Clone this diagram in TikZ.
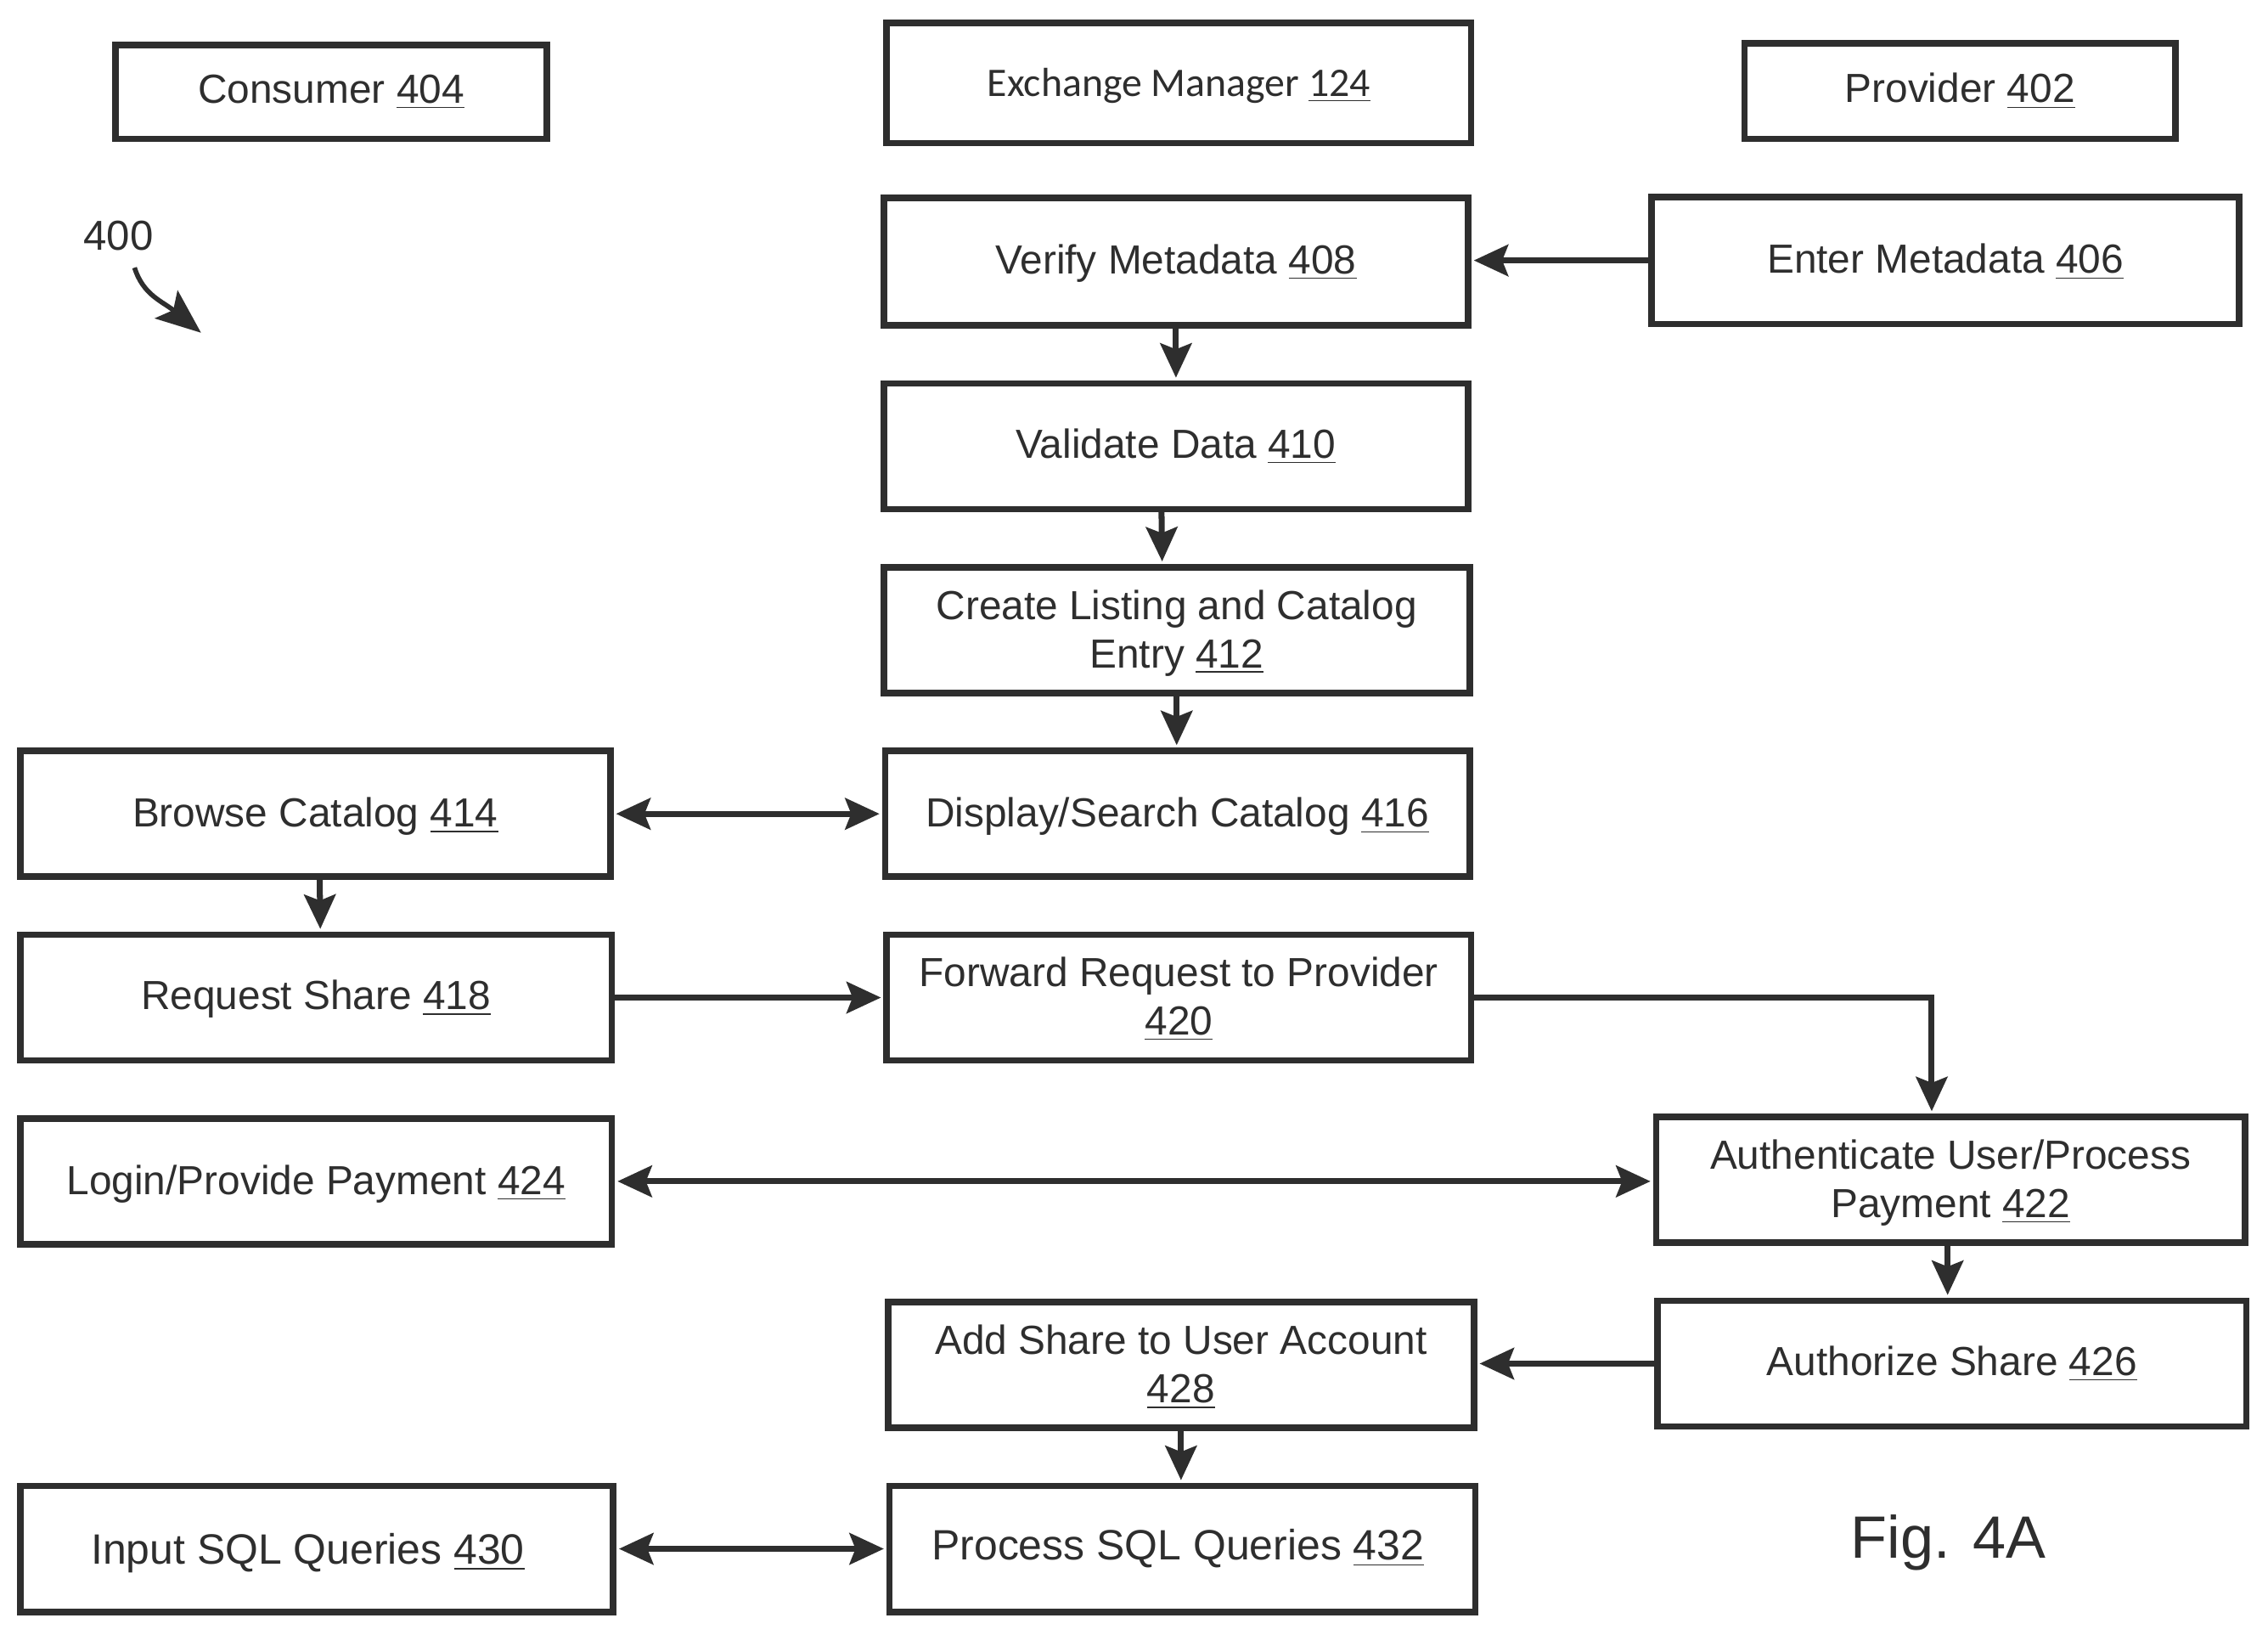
\documentclass[tikz,border=0pt]{standalone}
\usepackage{fontspec}
\setmainfont{Liberation Sans}
\newfontfamily\carlitofont{Carlito}
\usetikzlibrary{arrows.meta}
\definecolor{ink}{HTML}{2E2E2E}
\def\uu{0.017034cm}
\newcommand{\ulnum}[1]{\underline{#1}}
\newcommand{\bx}[7]{\node[flowbox, minimum width={(#4-#2)*\uu}, minimum height={(#5-#3)*\uu}] (#1) at ({(#2+#4)/2},{(#3+#5)/2}) {};
  \node[flowtext] (#1t) at ({(#2+#4)/2},{(#3+#5)/2+#6}) {#7};}
\tikzset{
  flowbox/.style={draw=ink, line width=2.2pt, inner sep=0pt, outer sep=0pt},
  flowtext/.style={inner sep=0pt, outer sep=0pt, align=center, text=ink,
    font=\fontsize{13.6}{16.2}\selectfont},
  conn/.style={draw=ink, line width=2pt, shorten >=1.9pt, shorten <=0pt},
  oneway/.style={conn, -{Stealth[length=11.5pt, width=10.5pt, inset=2pt]}},
  twoway/.style={conn, shorten <=1.9pt, {Stealth[length=11.5pt, width=10.5pt, inset=2pt]}-{Stealth[length=11.5pt, width=10.5pt, inset=2pt]}},
  plain/.style={text=ink, inner sep=0pt, outer sep=0pt}
}
\begin{document}
\begin{tikzpicture}[x=\uu, y=-\uu]
\useasboundingbox (0,0) rectangle (1568,1130);
\bx{consumer}{80}{31}{378}{96}{0}{Consumer \ulnum{404}}
\bx{exchange}{613}{16}{1017}{99}{2}{\carlitofont Exchange Manager \ulnum{124}}
\bx{provider}{1206}{30}{1504}{96}{0}{Provider \ulnum{402}}
\bx{n408}{611}{137}{1015}{225}{1}{Verify Metadata \ulnum{408}}
\bx{n406}{1142}{136}{1548}{224}{1}{Enter Metadata \ulnum{406}}
\bx{n410}{611}{265}{1015}{352}{0}{Validate Data \ulnum{410}}
\bx{n412}{611}{392}{1016}{479}{2}{Create Listing and Catalog\\Entry \ulnum{412}}
\bx{n414}{14}{519}{422}{606}{2}{Browse Catalog \ulnum{414}}
\bx{n416}{612}{519}{1016}{606}{2}{Display/Search Catalog \ulnum{416}}
\bx{n418}{14}{646}{423}{733}{1}{Request Share \ulnum{418}}
\bx{n420}{613}{646}{1017}{733}{1}{Forward Request to Provider\\\ulnum{420}}
\bx{n424}{14}{773}{423}{860}{2}{Login/Provide Payment \ulnum{424}}
\bx{n422}{1145}{772}{1552}{859}{2}{Authenticate User/Process\\Payment \ulnum{422}}
\bx{n426}{1146}{899}{1553}{986}{0}{Authorize Share \ulnum{426}}
\bx{n428}{614}{900}{1019}{987}{1.5}{Add Share to User Account\\\ulnum{428}}
\bx{n430}{14}{1027}{424}{1114}{3}{\fontsize{14.2}{16.2}\selectfont Input SQL Queries \ulnum{430}\hspace*{6pt}}
\bx{n432}{615}{1027}{1020}{1114}{0}{\fontsize{14.2}{16.2}\selectfont Process SQL Queries \ulnum{432}\hspace*{3pt}}

\node[plain, font=\fontsize{14}{16}\selectfont] (lab400) at (82,163) {400};
\node[plain, font=\fontsize{20}{24}\selectfont] (figlab) at (1347,1066) {Fig. 4A};

\coordinate (c400a) at (93,185);
\coordinate (c400b) at (139,230);
\draw[draw=ink, line width=1.6pt, -{Stealth[length=15pt, width=12pt, inset=3pt]}]
  (c400a) .. controls (99,204) and (112,208) .. (c400b);

\draw[oneway] (n406.west) -- (n406.west -| n408.east);
\draw[oneway] (n408.south) -- (n408.south |- n410.north);
\draw[oneway] ([xshift=-10*\uu]n410.south) -- ([xshift=-10*\uu]n412.north);
\draw[oneway] (n412.south) -- (n412.south |- n416.north);
\draw[twoway] (n414.east) -- (n414.east -| n416.west);
\draw[oneway] ([xshift=3*\uu]n414.south) -- ([xshift=3*\uu]n418.north);
\draw[oneway] (n418.east) -- (n418.east -| n420.west);
\draw[oneway] (n420.east) -| ([xshift=-13*\uu]n422.north);
\draw[twoway] (n424.east) -- (n424.east -| n422.west);
\draw[oneway] ([xshift=-2*\uu]n422.south) -- ([xshift=-2*\uu]n422.south |- n426.north);
\draw[oneway] (n426.west) -- (n426.west -| n428.east);
\draw[oneway] (n428.south) -- (n428.south |- n432.north);
\draw[twoway] (n430.east) -- (n430.east -| n432.west);
\end{tikzpicture}
\end{document}
